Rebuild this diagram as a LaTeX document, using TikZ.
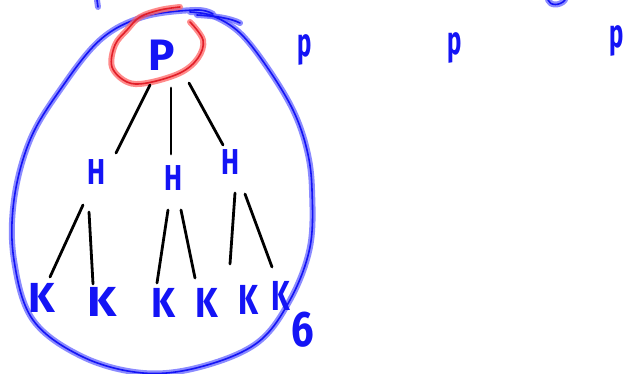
\documentclass[tikz,border=0pt]{standalone}
\usepackage{fontspec}
\setsansfont{Fira Sans}
\definecolor{inkblue}{RGB}{20,20,245}
\definecolor{halo}{RGB}{100,100,255}
\definecolor{inkred}{RGB}{225,30,40}
\definecolor{halored}{RGB}{255,100,100}
\begin{document}
\begin{tikzpicture}[x=1pt,y=-1pt,
  halob/.style={draw=halo, line width=6pt, opacity=0.75, line cap=round, line join=round},
  coreb/.style={draw=inkblue, line width=1.6pt, line cap=round, line join=round},
  halor/.style={draw=halored, line width=6pt, opacity=0.75, line cap=round, line join=round},
  corer/.style={draw=inkred, line width=1.6pt, line cap=round, line join=round},
  edge/.style={draw=black, line width=2.8pt, line cap=round},
  letter/.style={text=inkblue, inner sep=0pt, font=\sffamily\bfseries\fontsize{42}{42}\selectfont},
  small/.style={letter, font=\sffamily\bfseries\fontsize{40}{40}\selectfont}]
\useasboundingbox (0,0) rectangle (629,374);
% loop
\foreach \s in {halob,coreb}{
\draw[\s] plot[smooth, tension=0.6] coordinates {(213,14) (195,10) (143,17) (100,40) (60,90) (30,140) (14,200) (14,260) (33,320) (83,357) (143,373) (200,367) (257,343) (290,300) (310,247) (312,190) (307,150) (293,110) (267,67) (240,33) (213,16) (190,12)};
\draw[\s] (197,15) .. controls (215,16) and (230,18) .. (240,23);
\draw[\s] (97,0) -- (98,7);
\draw[\s] (548,0) .. controls (550,6) and (560,6) .. (565,0);
}
% red circle
\foreach \s in {halor,corer}{
\draw[\s] plot[smooth, tension=0.6] coordinates {(190,22) (203,40) (198,58) (180,73) (147,83) (127,82) (112,67) (115,45) (127,30) (140,17) (160,10) (180,7)};
}
% letters
\node[letter, font=\sffamily\bfseries\fontsize{44}{44}\selectfont] (P) at (162,55) {P};
\node[letter, xscale=0.75, font=\sffamily\bfseries\fontsize{36}{36}\selectfont] (H1) at (96,172) {H};
\node[letter, xscale=0.75, font=\sffamily\bfseries\fontsize{36}{36}\selectfont] (H2) at (173,178) {H};
\node[letter, xscale=0.75, font=\sffamily\bfseries\fontsize{36}{36}\selectfont] (H3) at (230,162) {H};
\node[letter] (K1) at (42,298) {K};
\node[letter, xscale=1.1] (K2) at (102,302) {K};
\node[letter, xscale=0.9] (K3) at (163,303) {K};
\node[letter, xscale=0.85] (K4) at (207,303) {K};
\node[letter, xscale=0.75] (K5) at (248,300) {K};
\node[letter, xscale=0.7] (K6) at (281,296) {K};
\node[letter, font=\sffamily\bfseries\fontsize{50}{50}\selectfont, xscale=0.8] (six) at (303,330) {6};
\node[small, xscale=0.6] (p1) at (305,50) {p};
\node[small, xscale=0.6] (p2) at (455,48) {p};
\node[small, xscale=0.6] (p3) at (617,41) {p};
% edges
\draw[edge] ([shift={(-12,30)}]P.center) -- ([shift={(20,-19)}]H1.center);
\draw[edge] ([shift={(9,33)}]P.center) -- ([shift={(-2,-24)}]H2.center);
\draw[edge] ([shift={(27,28)}]P.center) -- ([shift={(-7,-17)}]H3.center);
\draw[edge] ([shift={(-13,33)}]H1.center) -- ([shift={(8,-21)}]K1.center);
\draw[edge] ([shift={(-7,40)}]H1.center) -- ([shift={(-9,-18)}]K2.center);
\draw[edge] ([shift={(-5,32)}]H2.center) -- ([shift={(-6,-20)}]K3.center);
\draw[edge] ([shift={(8,32)}]H2.center) -- ([shift={(-12,-25)}]K4.center);
\draw[edge] ([shift={(5,31)}]H3.center) -- ([shift={(-18,-36)}]K5.center);
\draw[edge] ([shift={(15,32)}]H3.center) -- ([shift={(-9,-29)}]K6.center);
\end{tikzpicture}
\end{document}
